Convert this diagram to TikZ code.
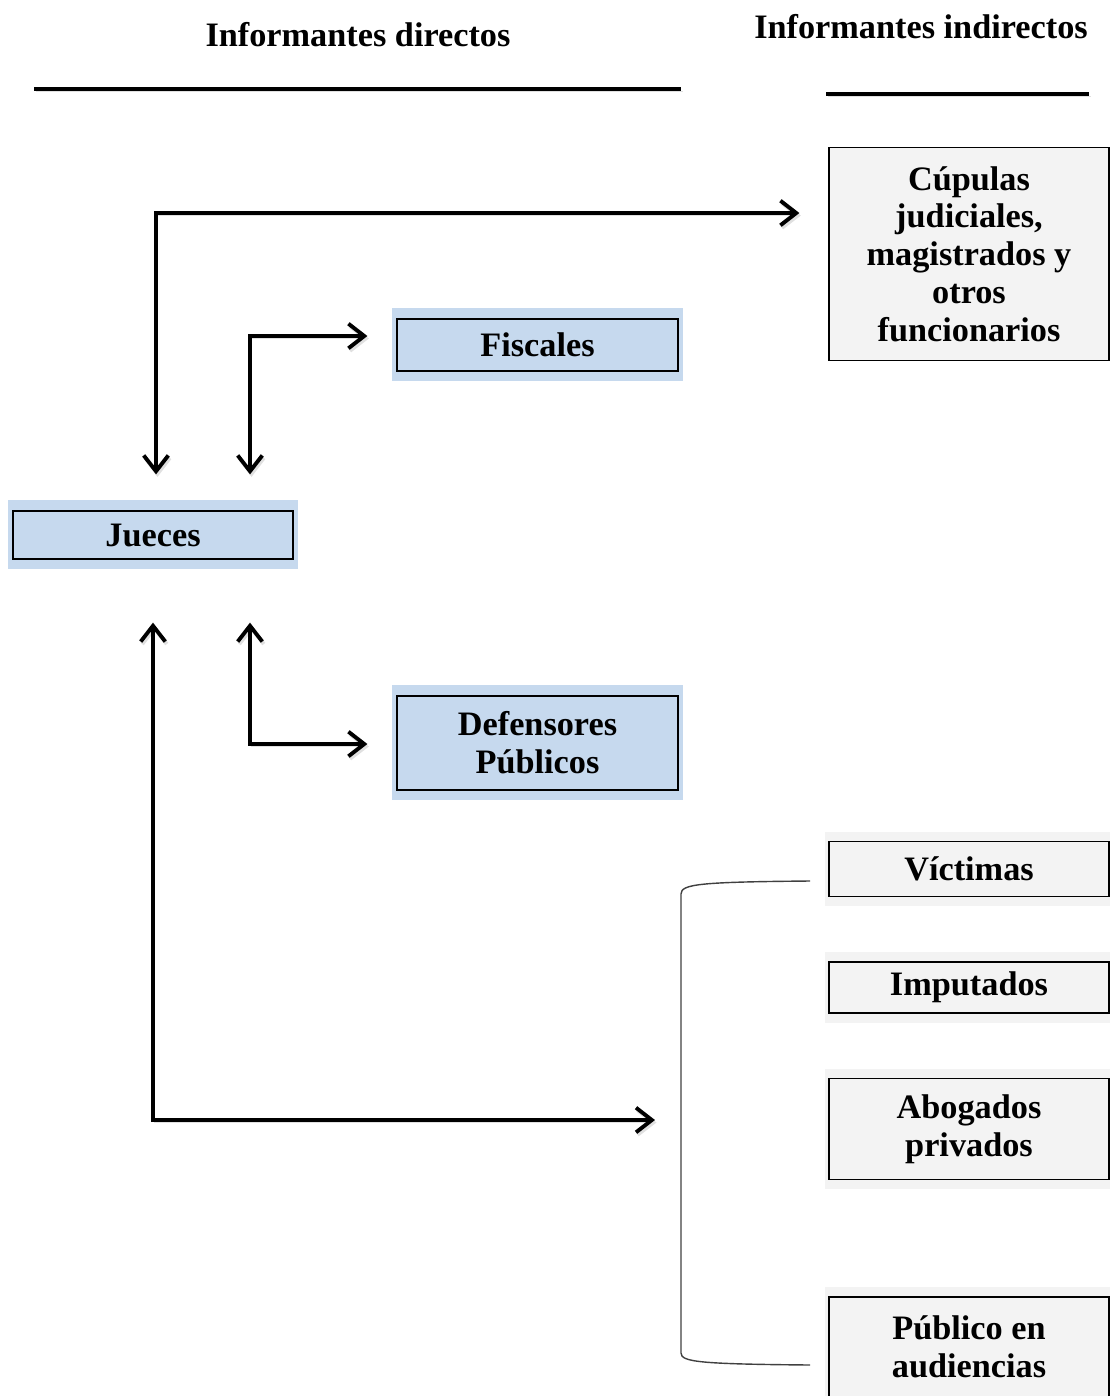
\documentclass[tikz,border=0pt]{standalone}
\usepackage{fontspec}
\setmainfont{Liberation Serif}
\usepackage{tikz}
\usetikzlibrary{arrows.meta}
\usetikzlibrary{backgrounds}
\definecolor{azulclaro}{RGB}{198,217,238}
\definecolor{grisclaro}{RGB}{243,243,243}
\tikzset{
  every node/.style={font=\fontsize{19.5pt}{21.5pt}\selectfont\bfseries, inner sep=0pt},
  directo/.style={draw, line width=0.7pt, fill=azulclaro, minimum width=5.62cm, align=center},
  indirecto/.style={draw, line width=0.7pt, fill=grisclaro, minimum width=5.6cm, align=center},
  sombra/.style={preaction={draw=black!12, transform canvas={shift={(0.3mm,-0.5mm)}}}},
  link/.style={line width=1.8pt, sombra,
    {Straight Barb[length=9pt,width=14pt,line width=2.2pt]}-{Straight Barb[length=9pt,width=14pt,line width=2.2pt]}},
  raya/.style={line width=2.8pt, sombra}
}

\begin{document}
\begin{tikzpicture}[x=0.2mm, y=-0.2mm]
\useasboundingbox (0,0) rectangle (1110,1396);
% titulos
\node (dir) at (358,35) {Informantes directos};
\node (ind) at (921,27) {Informantes indirectos};
\draw[raya] (34,89) -- (681,89);
\draw[raya] (826,94) -- (1089,94);
% informantes directos
\node[directo, minimum height=1.04cm] (fis) at (537.5,345) {Fiscales};
\node[directo, minimum width=5.6cm, minimum height=0.96cm] (jue) at (153,535) {Jueces};
\node[directo, minimum height=1.88cm] (def) at (537.5,743) {Defensores\\Públicos};
% informantes indirectos
\node[indirecto, minimum height=4.26cm] (cup) at (969,254) {Cúpulas\\judiciales,\\magistrados y\\otros\\funcionarios};
\node[indirecto, minimum height=1.1cm] (vic) at (969,869) {Víctimas};
\node[indirecto, minimum height=1.02cm] (imp) at (969,987.5) {Imputados};
\node[indirecto, minimum height=2.02cm] (abo) at (969,1129) {Abogados\\privados};
\node[indirecto, minimum height=2.0cm] (pub) at (969,1347) {Público en\\audiencias};
% franjas de fondo
\begin{scope}[on background layer]
\foreach \n in {fis,jue,def} {
    \fill[azulclaro] ([shift={(-4,9)}]\n.south west) rectangle ([shift={(4,-10)}]\n.north east);
}
\foreach \n in {vic,imp,abo,pub} {
    \fill[grisclaro] ([shift={(-3,9)}]\n.south west) rectangle ([shift={(1,-9)}]\n.north east);
}
\end{scope}
% flechas
\draw[link, shorten <=5.8mm, shorten >=7.2mm] (cup.west |- 0,213) -- (156,213) -- (jue.north -| 156,0);
\draw[link, shorten <=5.8mm, shorten >=7.2mm] (fis.west |- 0,336) -- (250,336) -- (jue.north -| 250,0);
\draw[link, shorten <=5.8mm, shorten >=12.6mm] (def.west |- 0,744) -- (250,744) -- (jue.south -| 250,0);
\coordinate (grupo) at (681,1120);
\draw[link, shorten <=12.6mm, shorten >=5.2mm] (jue.south -| 153,0) -- (153,1120) -- (grupo);
% llave
\draw[line width=0.8pt, black!75] (810,881) .. controls (700,882) and (681,884) .. (681,894)
    -- (681,1353) .. controls (681,1362) and (700,1364) .. (810,1365);
\end{tikzpicture}
\end{document}
